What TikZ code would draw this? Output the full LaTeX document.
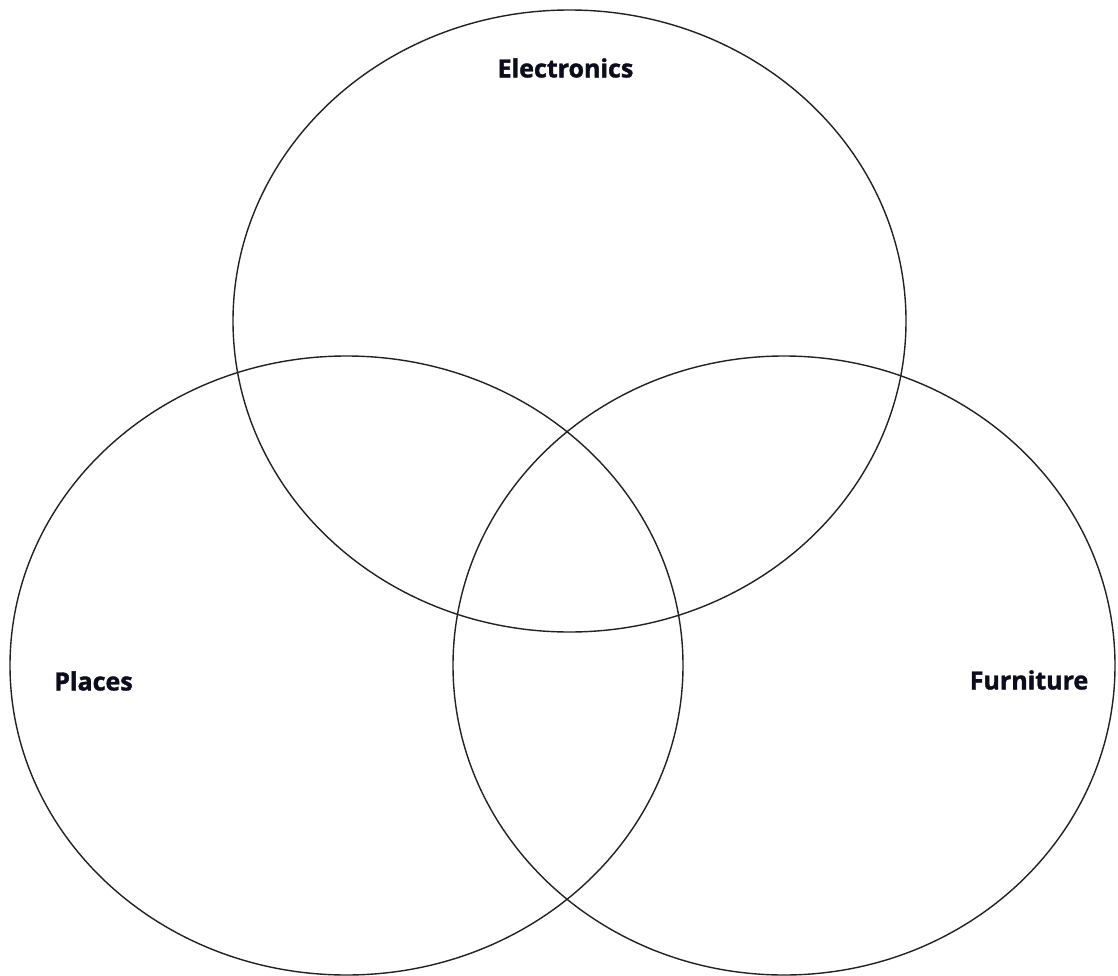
\documentclass[tikz,border=0pt]{standalone}
\usepackage{fontspec}
\setmainfont{Open Sans}
\newfontfamily\lblfont{Open Sans}[BoldFeatures={FakeBold=1.5}]
\definecolor{txt}{HTML}{0C0C1C}
\definecolor{ln}{HTML}{222222}
\begin{document}
\begin{tikzpicture}[x=1pt,y=-1pt,
  ring/.style={draw=ln,line width=1.4pt},
  lbl/.style={font=\lblfont\fontsize{25}{28}\selectfont\bfseries,text=txt,inner sep=0pt}]
\useasboundingbox[fill=white] (0,0) rectangle (1118,976);
\draw[ring] (569.5,321) ellipse [x radius=336.5, y radius=311];
\draw[ring] (346.5,665.5) ellipse [x radius=336.5, y radius=309.5];
\draw[ring] (784,665.5) ellipse [x radius=331, y radius=309.5];
\node[lbl] (elec) at (565.5,68) {Electronics};
\node[lbl] (plac) at (93.5,681) {Places};
\node[lbl] (furn) at (1029,680) {Furniture};
\end{tikzpicture}
\end{document}
